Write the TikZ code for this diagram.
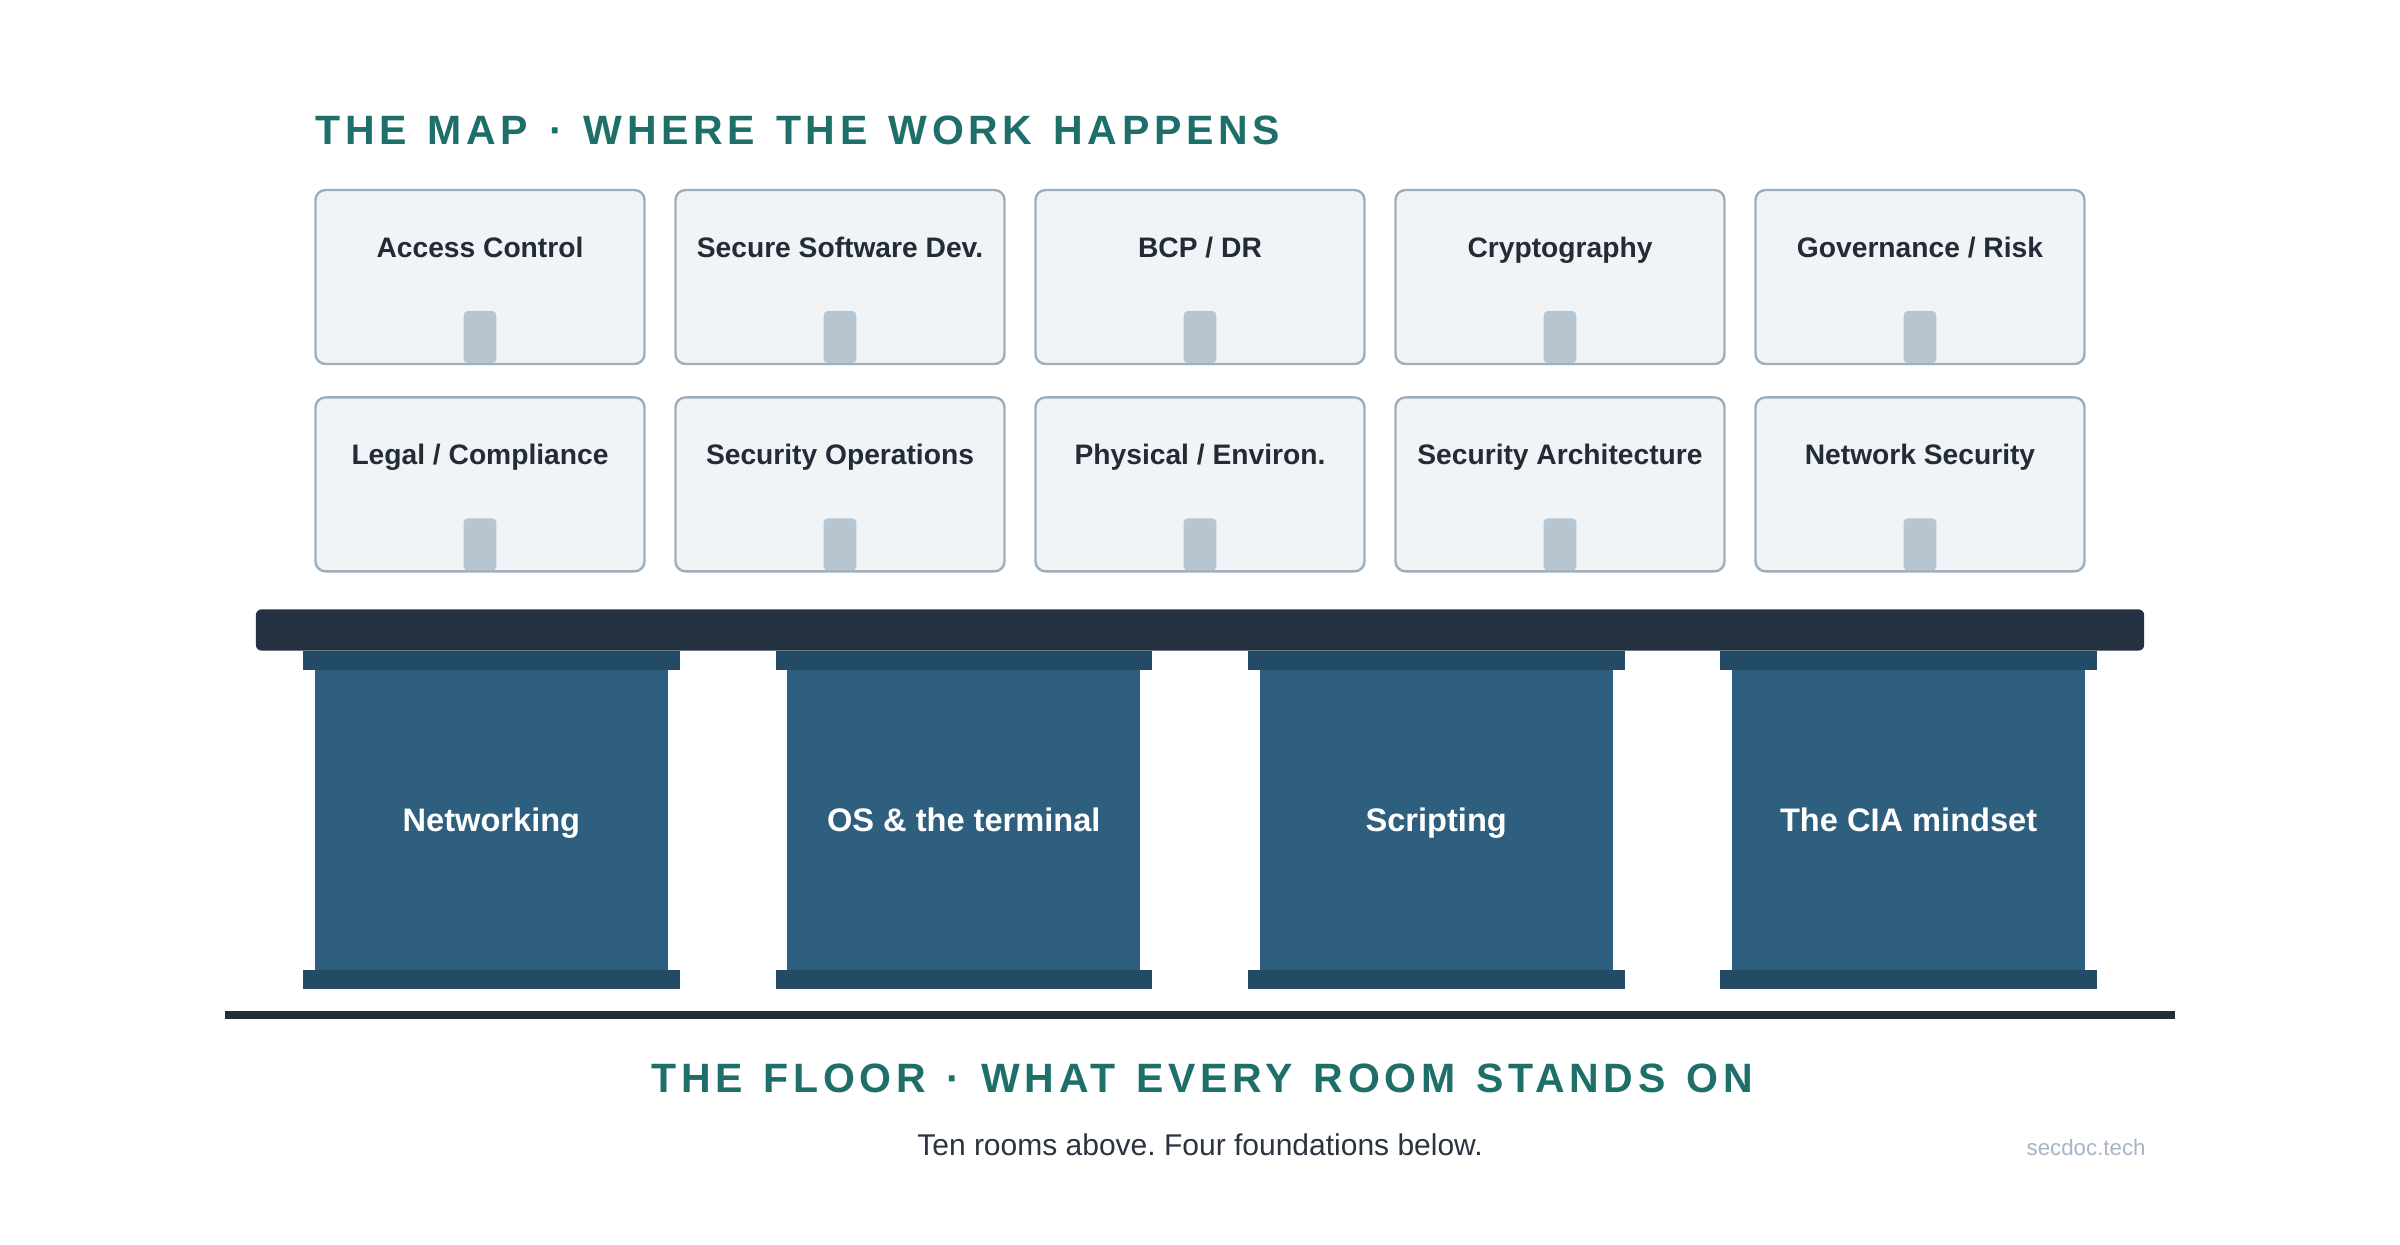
\documentclass[tikz,border=0pt]{standalone}
\usepackage{fontspec}
\usepackage{tikz}
\usepackage{xcolor}
\setmainfont{Liberation Sans}
\newfontfamily\spacedfont[LetterSpace=11.5,WordSpace=1.3]{Liberation Sans}
\definecolor{mapteal}{HTML}{1E6F6A}
\definecolor{roomfill}{HTML}{F0F4F7}
\definecolor{roomedge}{HTML}{9DAFBF}
\definecolor{doorfill}{HTML}{B7C5D1}
\definecolor{ink}{HTML}{222B36}
\definecolor{subink}{HTML}{2A3440}
\definecolor{beamcol}{HTML}{243140}
\definecolor{plinthcol}{HTML}{244B66}
\definecolor{shaftcol}{HTML}{2E5F7F}
\definecolor{floorcol}{HTML}{222D38}
\definecolor{signcol}{HTML}{A6B6C5}
\frenchspacing

\begin{document}
\begin{tikzpicture}[x=0.5pt,y=-0.5pt,
  room/.style={draw=roomedge,fill=roomfill,line width=1.2pt,rounded corners=5pt,minimum width=164.5pt,minimum height=87pt,inner sep=0pt},
  door/.style={fill=doorfill,rounded corners=2pt,minimum width=16.3pt,minimum height=26pt,inner sep=0pt,anchor=south},
  roomname/.style={anchor=base,inner sep=0pt,text=ink,font=\bfseries\fontsize{14.1}{17}\selectfont},
  plinth/.style={fill=plinthcol,minimum width=188.3pt,minimum height=9.5pt,inner sep=0pt},
  shaft/.style={fill=shaftcol,minimum width=176.5pt,minimum height=150.2pt,inner sep=0pt},
  pillarname/.style={anchor=base,inner sep=0pt,text=white,font=\bfseries\fontsize{16.3}{19}\selectfont},
  heading/.style={inner sep=0pt,text=mapteal,font=\spacedfont\bfseries\fontsize{20.5}{24}\selectfont}]
  \fill[white] (0,0) rectangle (2400,1245);
  \useasboundingbox (0,0) rectangle (2400,1245);

  \node[heading,anchor=base west] (maptitle) at (315,144.3) {THE MAP · WHERE THE WORK HAPPENS};

  \node[room] (r1) at (480,277) {};  \node[door] (d1) at (480,363.5) {};  \node[roomname] (n1) at (480,257.7) {Access Control};
  \node[room] (r2) at (840,277) {};  \node[door] (d2) at (840,363.5) {};  \node[roomname] (n2) at (840,257.7) {Secure Software Dev.};
  \node[room] (r3) at (1200,277) {}; \node[door] (d3) at (1200,363.5) {}; \node[roomname] (n3) at (1200,257.7) {BCP / DR};
  \node[room] (r4) at (1560,277) {}; \node[door] (d4) at (1560,363.5) {}; \node[roomname] (n4) at (1560,257.7) {Cryptography};
  \node[room] (r5) at (1920,277) {}; \node[door] (d5) at (1920,363.5) {}; \node[roomname] (n5) at (1920,257.7) {Governance / Risk};

  \node[room] (r6) at (480,484.4) {};  \node[door] (d6) at (480,570.9) {};  \node[roomname] (n6) at (480,464.3) {Legal / Compliance};
  \node[room] (r7) at (840,484.4) {};  \node[door] (d7) at (840,570.9) {};  \node[roomname] (n7) at (840,464.3) {Security Operations};
  \node[room] (r8) at (1200,484.4) {}; \node[door] (d8) at (1200,570.9) {}; \node[roomname] (n8) at (1200,464.3) {Physical / Environ.};
  \node[room] (r9) at (1560,484.4) {}; \node[door] (d9) at (1560,570.9) {}; \node[roomname] (n9) at (1560,464.3) {Security Architecture};
  \node[room] (r10) at (1920,484.4) {}; \node[door] (d10) at (1920,570.9) {}; \node[roomname] (n10) at (1920,464.3) {Network Security};

  \node[fill=beamcol,rounded corners=3pt,minimum width=944.2pt,minimum height=20.7pt,inner sep=0pt] (beam) at (1200,630) {};

  \node[shaft] (s1) at (491.4,820.2) {};  \node[plinth] (c1) at (491.4,660.5) {};  \node[plinth] (b1) at (491.4,979.6) {};
  \node[shaft] (s2) at (963.8,820.2) {};  \node[plinth] (c2) at (963.8,660.5) {};  \node[plinth] (b2) at (963.8,979.6) {};
  \node[shaft] (s3) at (1436.2,820.2) {}; \node[plinth] (c3) at (1436.2,660.5) {}; \node[plinth] (b3) at (1436.2,979.6) {};
  \node[shaft] (s4) at (1908.6,820.2) {}; \node[plinth] (c4) at (1908.6,660.5) {}; \node[plinth] (b4) at (1908.6,979.6) {};
  \node[pillarname] (p1) at (491.4,831.7) {Networking};
  \node[pillarname] (p2) at (963.8,831.7) {OS \& the terminal};
  \node[pillarname] (p3) at (1436.2,831.7) {Scripting};
  \node[pillarname] (p4) at (1908.6,831.7) {The CIA mindset};

  \coordinate (floorl) at (225,1015);
  \coordinate (floorr) at (2175,1015);
  \draw[floorcol,line width=4pt] (floorl) -- (floorr);

  \node[heading,anchor=base] (floortitle) at (1202,1092) {THE FLOOR · WHAT EVERY ROOM STANDS ON};
  \node[anchor=base,inner sep=0pt,text=subink,font=\fontsize{15}{18}\selectfont] (subline) at (1200,1155) {Ten rooms above. Four foundations below.};
  \node[anchor=base east,inner sep=0pt,text=signcol,font=\fontsize{11.15}{13}\selectfont] (sign) at (2146,1155) {secdoc.tech};
\end{tikzpicture}
\end{document}
